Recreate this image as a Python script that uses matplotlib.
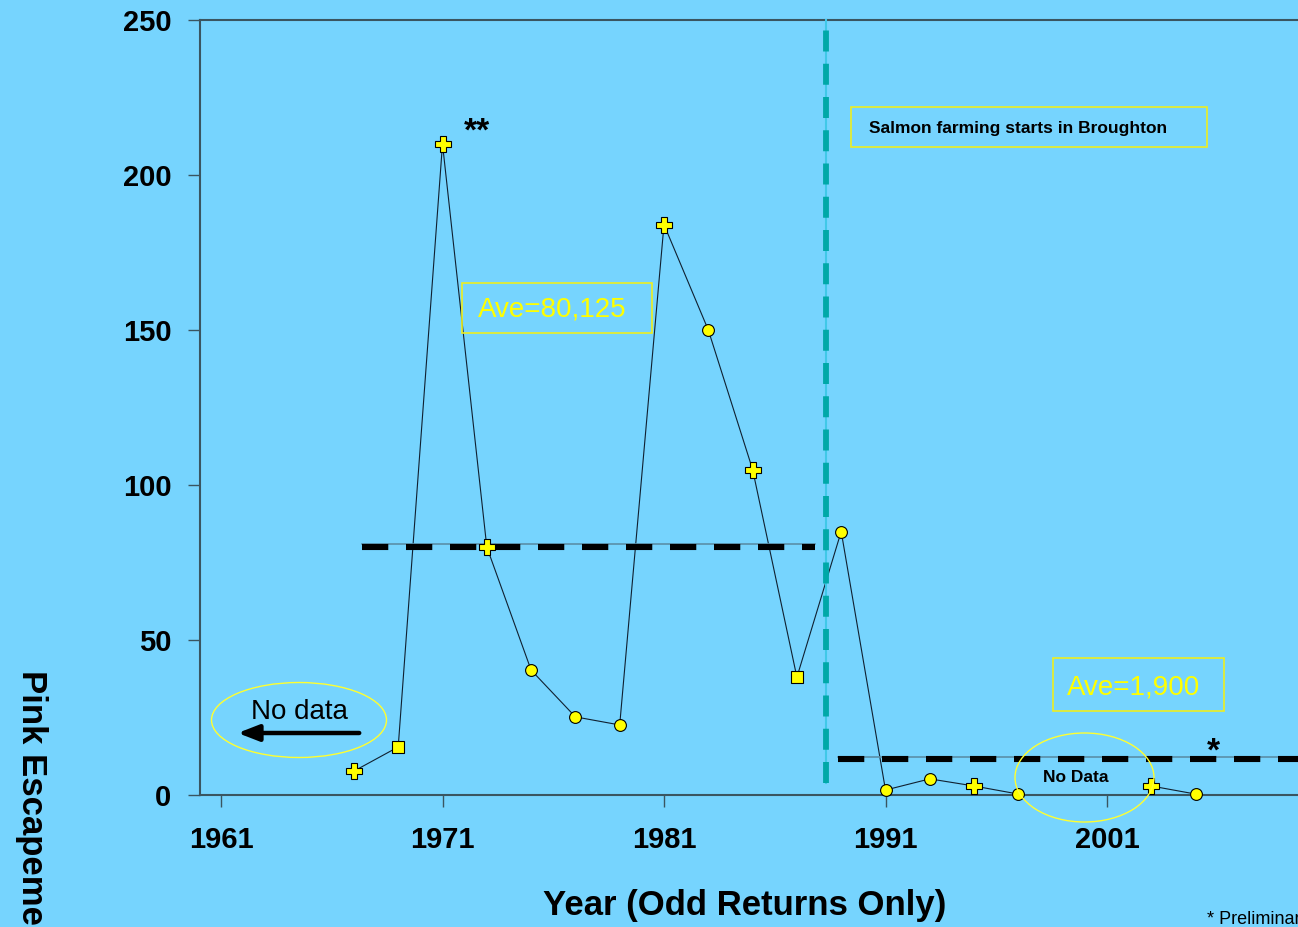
import numpy as np
import matplotlib
matplotlib.use("Agg")
import matplotlib.pyplot as plt
from matplotlib.patches import Ellipse, Rectangle

plt.rcParams['font.family'] = ['Liberation Sans', 'DejaVu Sans']

# pink escapement (000s), odd years only; 1999 and 2001 have no data
years = [1967, 1969, 1971, 1973, 1975, 1977, 1979, 1981, 1983, 1985, 1987,
         1989, 1991, 1993, 1995, 1997, 1999, 2001, 2003, 2005]
escapement = [7.7, 15.5, 210, 80, 40.3, 25.2, 22.6, 184, 150, 105, 38,
              85, 1.6, 5.2, 2.9, 0.3, np.nan, np.nan, 2.9, 0.3]
point_shapes = ['P', 's', 'P', 'P', 'o', 'o', 'o', 'P', 'o', 'P', 's',
                'o', 'o', 'o', 'P', 'o', None, None, 'P', 'o']

ave_before = 80.1
ave_after = 11.5
farming_start = 1988.3
xticks = [1961, 1971, 1981, 1991, 2001]
yticks = [0, 50, 100, 150, 200, 250]

bg = '#76D4FE'
spine_col = '#3a5560'

fig = plt.figure(figsize=(12.98, 9.27), dpi=100, facecolor=bg)
ax = fig.add_axes([200/1298, 132/927, 1098/1298, 775/927])
ax.set_facecolor(bg)
ax.set_xlim(1961 - 21/22.15, 1961 + 1077/22.15)
ax.set_ylim(0, 250)

for s in ['left', 'top', 'bottom']:
    ax.spines[s].set_color(spine_col)
    ax.spines[s].set_linewidth(1.5)
ax.spines['right'].set_visible(False)

ax.set_xticks(xticks)
ax.set_yticks(yticks)
ax.tick_params(axis='both', direction='out', length=8.5, width=1, color=spine_col,
               labelsize=21)
ax.tick_params(axis='x', pad=14)
ax.tick_params(axis='y', pad=12)
for lab in ax.get_xticklabels() + ax.get_yticklabels():
    lab.set_fontweight('bold')

# data line
ax.plot(years, escapement, color='#102030', lw=0.8, zorder=3)

# averages: thin line with thick black dashes
x1 = (1961 + (362 - 221)/22.15, 1961 + (815 - 221)/22.15)
x2 = (1961 + (838 - 221)/22.15, ax.get_xlim()[1])
for (xa, xb), yv in [(x1, ave_before), (x2, ave_after)]:
    ax.plot([xa, xb], [yv + 0.8, yv + 0.8], color='#5a8fa8', lw=1.2, zorder=4)
    ax.plot([xa, xb], [yv, yv], color='black', lw=4.4, dashes=(4.3, 2.9),
            solid_capstyle='butt', dash_capstyle='butt', zorder=4)

# salmon farming start line
ax.plot([farming_start, farming_start], [4, 250], color='#40C8E8', lw=1.5,
        zorder=5, clip_on=False)
ax.plot([farming_start, farming_start], [4, 250], color='#00A8A8', lw=4.2,
        dashes=(3.6, 2.1), dash_capstyle='butt', zorder=5, clip_on=False)

# markers
for shp in ['P', 's', 'o']:
    xs = [x for x, y, m in zip(years, escapement, point_shapes) if m == shp]
    ys = [y for x, y, m in zip(years, escapement, point_shapes) if m == shp]
    size = {'P': 11, 's': 8, 'o': 8.5}[shp]
    ax.plot(xs, ys, linestyle='none', marker=shp, markersize=size,
            markerfacecolor='#FFFF00', markeredgecolor='black',
            markeredgewidth=0.8, zorder=6, clip_on=False)


def px(x, y):
    return 1961 + (x - 221)/22.15, (795 - y)/3.1


def box(x0, y0, x1, y1, edge):
    (a, b), (c, d) = px(x0, y1), px(x1, y0)
    ax.add_patch(Rectangle((a, b), c - a, d - b, fill=False, edgecolor=edge,
                           lw=1.2, zorder=7))


box(851, 107, 1207, 147, '#EEEE20')
ax.text(*px(869, 128), 'Salmon farming starts in Broughton', fontsize=12.5,
        fontweight='bold', ha='left', va='center', zorder=8)

box(462, 283, 652, 333, '#EEEE20')
ax.text(*px(552, 309), 'Ave=80,125', fontsize=20, color='#FFFF00',
        ha='center', va='center', zorder=8)

box(1053, 658, 1224, 711, '#EEEE20')
ax.text(*px(1134, 687), 'Ave=1,900', fontsize=20, color='#FFFF00',
        ha='center', va='center', zorder=8)

ax.text(*px(477, 132), '**', fontsize=24, fontweight='bold', ha='center',
        va='center', zorder=8)
ax.text(*px(1213, 752), '*', fontsize=24, fontweight='bold', ha='center',
        va='center', zorder=8)

# no data (left)
cx, cy = px(299, 720)
ax.add_patch(Ellipse((cx, cy), 175/22.15, 75/3.1, fill=False,
                     edgecolor='#FFFF30', lw=1, zorder=7))
ax.text(*px(299, 712), 'No data', fontsize=20, ha='center', va='center',
        zorder=8)
ax.annotate('', xy=px(235, 733), xytext=px(362, 733),
            arrowprops=dict(arrowstyle='-|>,head_length=0.9,head_width=0.35',
                            lw=3.2, color='black', mutation_scale=14),
            zorder=8)

# no data (right)
cx, cy = px(1084.5, 777.5)
ax.add_patch(Ellipse((cx, cy), 139/22.15, 89/3.1, fill=False,
                     edgecolor='#FFFF30', lw=1, zorder=7, clip_on=False))
ax.text(*px(1076, 778), 'No Data', fontsize=12.5, fontweight='bold',
        ha='center', va='center', zorder=8)

fig.text(745/1298, 1 - 906/927, 'Year (Odd Returns Only)', fontsize=25,
         fontweight='bold', ha='center', va='center')
fig.text(31/1298, 1 - 670/927, 'Pink Escapement (000s)', fontsize=25,
         fontweight='bold', rotation=270, ha='center', va='top')
fig.text(1207/1298, 1 - 920/927, '* Preliminary', fontsize=13,
         ha='left', va='center')

fig.savefig('out.png', dpi=100, facecolor=bg)
